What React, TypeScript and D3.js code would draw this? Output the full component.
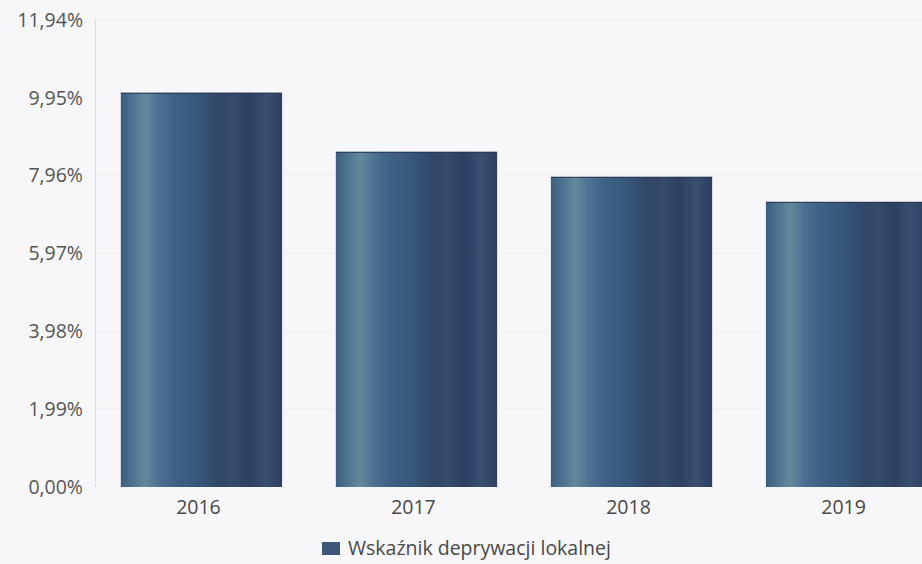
import { useRef, useEffect } from "react";
import * as d3 from "d3";

const years = ["2016", "2017", "2018", "2019"];
const values = [10.08, 8.57, 7.93, 7.29];
const yTicks = [0, 1.99, 3.98, 5.97, 7.96, 9.95, 11.94];
const legendLabel = "Wskaźnik deprywacji lokalnej";

// stripe colours across each bar, left to right
const stripeStops: [number, string][] = [
  [0, "#3c5d7e"],
  [0.07, "#4d7290"],
  [0.15, "#628a9b"],
  [0.24, "#4b7091"],
  [0.34, "#3d6184"],
  [0.48, "#37577a"],
  [0.6, "#30476a"],
  [0.7, "#34496c"],
  [0.8, "#2e4062"],
  [0.9, "#384e72"],
  [1, "#2f3f60"],
];

const width = 922;
const height = 564;
const font = "Open Sans, sans-serif";

export default function App() {
  const ref = useRef<SVGSVGElement>(null);

  useEffect(() => {
    if (!ref.current) return;
    const svg = d3.select(ref.current);
    svg.selectAll("*").remove();

    const x = d3
      .scaleBand<string>()
      .domain(years)
      .range([95, 953])
      .paddingInner(0.25)
      .paddingOuter(0.12);
    const y = d3.scaleLinear().domain([0, 11.94]).range([487, 20]);

    svg.append("rect").attr("width", width).attr("height", height).attr("fill", "#f7f7f9");

    const grad = svg
      .append("defs")
      .append("linearGradient")
      .attr("id", "barStripes")
      .attr("x1", "0%")
      .attr("x2", "100%")
      .attr("y1", "0%")
      .attr("y2", "0%");
    stripeStops.forEach(([o, c]) => {
      grad.append("stop").attr("offset", o).attr("stop-color", c);
    });

    // faint gridlines
    svg
      .append("g")
      .selectAll("line")
      .data(yTicks.slice(1))
      .join("line")
      .attr("x1", 95)
      .attr("x2", width)
      .attr("y1", (d) => y(d))
      .attr("y2", (d) => y(d))
      .attr("stroke", "#efeff2")
      .attr("stroke-width", 1);

    // y axis line
    svg
      .append("line")
      .attr("x1", 95.5)
      .attr("x2", 95.5)
      .attr("y1", y(11.94))
      .attr("y2", y(0))
      .attr("stroke", "#dcdce0");

    // y tick labels
    svg
      .append("g")
      .selectAll("text")
      .data(yTicks)
      .join("text")
      .attr("x", 83)
      .attr("y", (d) => y(d))
      .attr("dy", "0.35em")
      .attr("text-anchor", "end")
      .attr("font-family", font)
      .attr("font-size", 19.5)
      .attr("fill", "#555")
      .text((d) => d.toFixed(2).replace(".", ",") + "%");

    // bars
    svg
      .append("g")
      .selectAll("rect")
      .data(values)
      .join("rect")
      .attr("x", (_, i) => x(years[i])!)
      .attr("y", (d) => y(d))
      .attr("width", x.bandwidth())
      .attr("height", (d) => y(0) - y(d))
      .attr("fill", "url(#barStripes)");

    // thin dark top edge
    svg
      .append("g")
      .selectAll("line")
      .data(values)
      .join("line")
      .attr("x1", (_, i) => x(years[i])!)
      .attr("x2", (_, i) => x(years[i])! + x.bandwidth())
      .attr("y1", (d) => y(d) + 0.5)
      .attr("y2", (d) => y(d) + 0.5)
      .attr("stroke", "#2a3550")
      .attr("stroke-width", 1);

    // x labels
    svg
      .append("g")
      .selectAll("text")
      .data(years)
      .join("text")
      .attr("x", (d) => x(d)! + x.bandwidth() / 2 - 3)
      .attr("y", 507)
      .attr("dy", "0.35em")
      .attr("text-anchor", "middle")
      .attr("font-family", font)
      .attr("font-size", 19.5)
      .attr("fill", "#484848")
      .text((d) => d);

    // legend
    const lg = svg.append("g").attr("transform", "translate(322, 542)");
    lg.append("rect").attr("width", 18).attr("height", 13).attr("fill", "#3d5677");
    lg.append("text")
      .attr("x", 26)
      .attr("y", 6.5)
      .attr("dy", "0.35em")
      .attr("font-family", font)
      .attr("font-size", 19.5)
      .attr("fill", "#484848")
      .text(legendLabel);
  }, []);

  return (
    <svg
      ref={ref}
      width={width}
      height={height}
      style={{ position: "absolute", left: 0, top: 0 }}
    />
  );
}
